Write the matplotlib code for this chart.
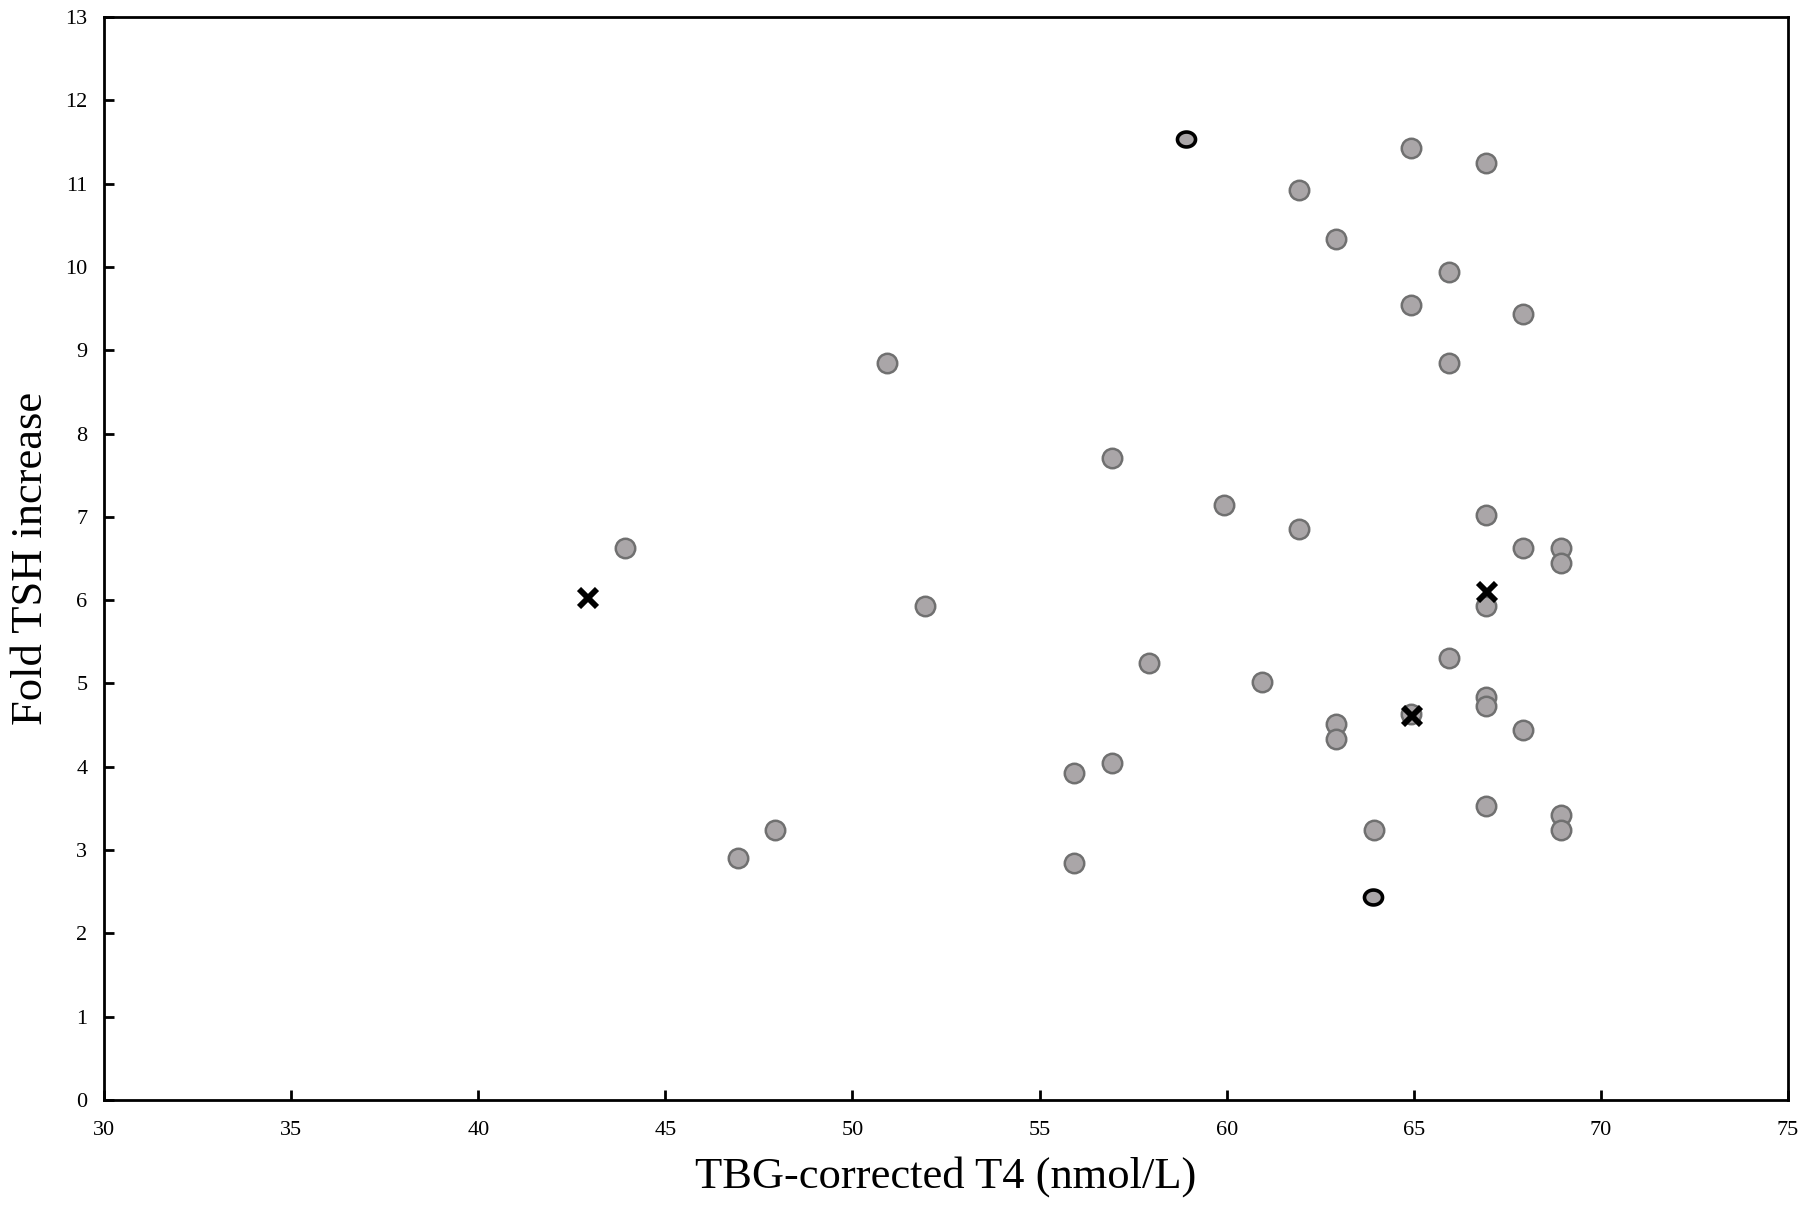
import matplotlib
matplotlib.use("Agg")
import matplotlib.pyplot as plt
import numpy as np
from matplotlib.path import Path

plt.rcParams['font.family'] = ['Liberation Serif', 'DejaVu Serif']

# Regular gray circles
circ_x = [64.93, 66.93, 61.93, 62.93, 65.93, 64.93, 67.93, 65.93, 50.93, 56.93, 59.93, 61.93,
          66.93, 67.93, 68.93, 68.93, 43.93, 66.93, 51.93, 57.93, 65.93, 60.93, 66.93, 66.93,
          64.93, 62.93, 62.93, 67.93, 55.93, 56.93, 47.93, 46.93, 55.93, 63.93, 66.93, 68.93, 68.93]
circ_y = [11.43, 11.25, 10.92, 10.34, 9.94, 9.54, 9.43, 8.85, 8.85, 7.71, 7.14, 6.85, 7.02,
          6.62, 6.62, 6.44, 6.62, 5.93, 5.93, 5.24, 5.31, 5.02, 4.84, 4.73, 4.63, 4.51,
          4.33, 4.44, 3.93, 4.04, 3.24, 2.91, 2.84, 3.24, 3.53, 3.42, 3.24]

# Black-edged circles
edge_x = [58.9, 63.9]
edge_y = [11.54, 2.44]

# Crosses
cross_x = [42.93, 66.95, 64.95]
cross_y = [6.02, 6.10, 4.61]

x_ticks = [30, 35, 40, 45, 50, 55, 60, 65, 70, 75]
y_ticks = list(range(0, 14))

fig = plt.figure(figsize=(18.03, 12.17), dpi=100)
ax = fig.add_axes([0.0577, 0.0962, 0.934, 0.8898])

fill = '#aaa6a8'
ax.plot(circ_x, circ_y, 'o', ms=14, mfc=fill, mec='#707070', mew=1.8, ls='none', zorder=3)

t = np.linspace(0, 2 * np.pi, 60)
ell = Path(np.column_stack([1.15 * np.cos(t), 0.95 * np.sin(t)]), closed=True)
ax.plot(edge_x, edge_y, ls='none', marker=ell, ms=13, mfc=fill, mec='black', mew=2.6, zorder=3)

ax.plot(cross_x, cross_y, 'x', ms=13, mec='black', mew=4.2, ls='none', zorder=4)

ax.set_xlim(30, 75)
ax.set_ylim(0, 13)
ax.set_xticks(x_ticks)
ax.set_yticks(y_ticks)
ax.tick_params(direction='in', length=7, width=2, labelsize=16)
ax.tick_params(axis='x', pad=15)
ax.tick_params(axis='y', pad=12)
for s in ['left', 'top', 'right', 'bottom']:
    ax.spines[s].set_linewidth(2)

ax.set_xlabel('TBG-corrected T4 (nmol/L)', fontsize=32, labelpad=12)
ax.set_ylabel('Fold TSH increase', fontsize=32, labelpad=10)

fig.savefig('out.png', dpi=100, facecolor='white')
